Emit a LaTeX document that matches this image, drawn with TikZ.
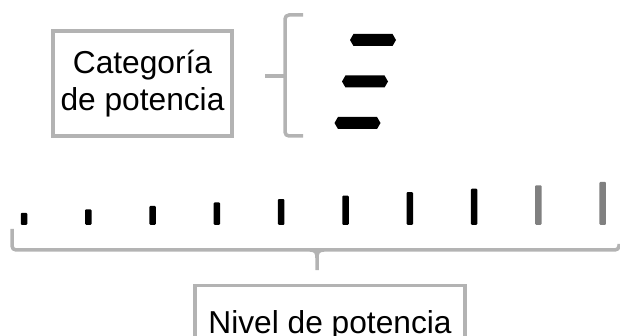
\documentclass[tikz,border=0pt]{standalone}
\usepackage{fontspec}
\setmainfont{Liberation Sans}
\usetikzlibrary{positioning,shapes.symbols}
\definecolor{frame}{HTML}{B3B3B3}

\begin{document}
\begin{tikzpicture}[x=1pt,y=-1pt,
 lblbox/.style={draw=frame,line width=3.3pt,inner sep=0pt,align=center,
  font=\fontsize{31.7}{36.5}\selectfont},
 brace/.style={draw=frame,line width=3.5pt,rounded corners=4pt},
 catbar/.style={signal,signal to=west and east,signal pointer angle=120,
  fill=black,inner sep=0pt,minimum width=46pt,minimum height=12pt},
 lvlbar/.style={rectangle,rounded corners=1pt,inner sep=0pt,minimum width=6.5pt,anchor=south}]
\clip (0,0) rectangle (620,336);
\node[lblbox,minimum width=179pt,minimum height=105pt] (cat) at (142.5,83.5)
 {Categoría\\de potencia};
\node[catbar] (cat1) at (373,40) {};
\node[catbar] (cat2) at (365,81.5) {};
\node[catbar] (cat3) at (357.5,123) {};
\coordinate (ctop) at (303,15);
\coordinate (cbot) at (303,136);
\coordinate (ctip) at (265,76);
\draw[brace] (ctop) -- (285,15) -- (285,136) -- (cbot);
\draw[brace] (ctip) -- (285,76);
\foreach \i in {1,...,10}
{\pgfmathtruncatemacro\g{\i>8 ? 50 : 100}
 \node[lvlbar,fill=black!\g,minimum height={12+3.44*(\i-1)}] (lvl\i)
  at ({24+64.3*(\i-1)},225) {};}
\node[lblbox,text height=23pt,text depth=7pt,minimum width=270pt,minimum height=80pt,
 anchor=north] (lvl) at (330,284) {Nivel de potencia};
\coordinate (lleft) at (12,229);
\coordinate (lright) at (619,244);
\coordinate (ltip) at (lvl.north);
\draw[brace] (lleft) -- (12,250) -- (619,250) -- (lright);
\draw[brace,rounded corners=0pt] (310,250) .. controls (316,250) and (317,253) .. (317,258)
 -- (317,270);
\draw[brace,rounded corners=0pt] (324,250) .. controls (318,250) and (317,253) .. (317,258);
\end{tikzpicture}
\end{document}
